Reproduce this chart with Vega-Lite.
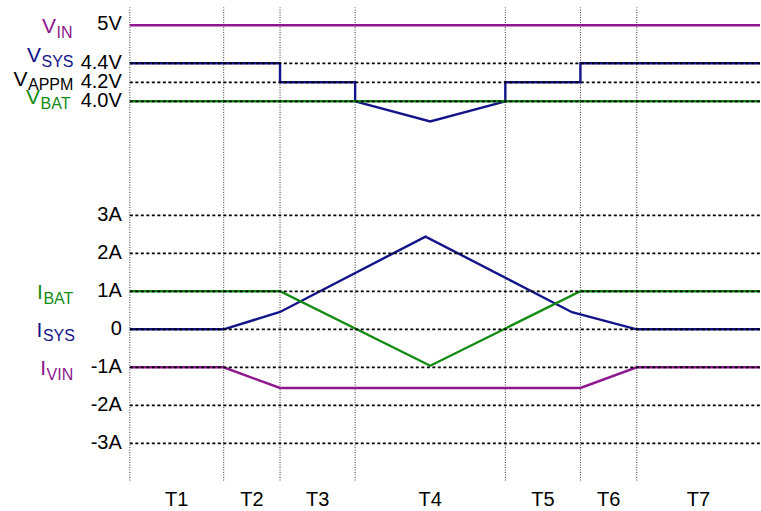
{
  "$schema": "https://vega.github.io/schema/vega-lite/v6.json",
  "width": 761,
  "height": 511,
  "autosize": {"type": "fit", "contains": "padding"},
  "padding": 0,
  "background": "white",
  "config": {"view": {"stroke": null}, "text": {"font": "Liberation Sans"}},
  "datasets": {
    "bounds": [{"t": 0}, {"t": 5}, {"t": 8}, {"t": 12}, {"t": 20}, {"t": 24}, {"t": 27}],
    "lines": [
      {"s": "VIN", "i": 0, "t": 0, "v": 8},
      {"s": "VIN", "i": 1, "t": 33.6, "v": 8},
      {"s": "VSYS", "i": 0, "t": 0, "v": 7},
      {"s": "VSYS", "i": 1, "t": 8, "v": 7},
      {"s": "VSYS", "i": 2, "t": 8, "v": 6.5},
      {"s": "VSYS", "i": 3, "t": 12, "v": 6.5},
      {"s": "VSYS", "i": 4, "t": 12, "v": 6},
      {"s": "VSYS", "i": 5, "t": 16, "v": 5.47},
      {"s": "VSYS", "i": 6, "t": 20, "v": 6},
      {"s": "VSYS", "i": 7, "t": 20, "v": 6.5},
      {"s": "VSYS", "i": 8, "t": 24, "v": 6.5},
      {"s": "VSYS", "i": 9, "t": 24, "v": 7},
      {"s": "VSYS", "i": 10, "t": 33.6, "v": 7},
      {"s": "VBAT", "i": 0, "t": 0, "v": 6},
      {"s": "VBAT", "i": 1, "t": 33.6, "v": 6},
      {"s": "ISYS", "i": 0, "t": 0, "v": 0},
      {"s": "ISYS", "i": 1, "t": 5, "v": 0},
      {"s": "ISYS", "i": 2, "t": 8, "v": 0.455},
      {"s": "ISYS", "i": 3, "t": 15.75, "v": 2.44},
      {"s": "ISYS", "i": 4, "t": 23.55, "v": 0.45},
      {"s": "ISYS", "i": 5, "t": 27, "v": 0},
      {"s": "ISYS", "i": 6, "t": 33.6, "v": 0},
      {"s": "IBAT", "i": 0, "t": 0, "v": 1},
      {"s": "IBAT", "i": 1, "t": 8, "v": 1},
      {"s": "IBAT", "i": 2, "t": 16, "v": -0.96},
      {"s": "IBAT", "i": 3, "t": 24, "v": 1},
      {"s": "IBAT", "i": 4, "t": 33.6, "v": 1},
      {"s": "IVIN", "i": 0, "t": 0, "v": -1},
      {"s": "IVIN", "i": 1, "t": 5, "v": -1},
      {"s": "IVIN", "i": 2, "t": 8, "v": -1.545},
      {"s": "IVIN", "i": 3, "t": 24, "v": -1.545},
      {"s": "IVIN", "i": 4, "t": 27, "v": -1},
      {"s": "IVIN", "i": 5, "t": 33.6, "v": -1}
    ],
    "grid": [{"lv": 7}, {"lv": 6.5}, {"lv": 6}, {"lv": 3}, {"lv": 2}, {"lv": 1}, {"lv": 0}, {"lv": -1}, {"lv": -2}, {"lv": -3}],
    "ticks": [
      {"lab": "5V", "v": 8.03},
      {"lab": "4.4V", "v": 7},
      {"lab": "4.2V", "v": 6.5},
      {"lab": "4.0V", "v": 6},
      {"lab": "3A", "v": 3},
      {"lab": "2A", "v": 2},
      {"lab": "1A", "v": 1},
      {"lab": "0", "v": 0},
      {"lab": "-1A", "v": -1},
      {"lab": "-2A", "v": -2},
      {"lab": "-3A", "v": -3}
    ],
    "names": [
      {"s": "VIN", "m": "V", "sub": "IN", "jx": -3.904, "ly": 7.797},
      {"s": "VSYS", "m": "V", "sub": "SYS", "jx": -4.707, "ly": 7.026},
      {"s": "VAPPM", "m": "V", "sub": "APPM", "jx": -5.426, "ly": 6.403},
      {"s": "VBAT", "m": "V", "sub": "BAT", "jx": -4.755, "ly": 5.929},
      {"s": "IBAT", "m": "I", "sub": "BAT", "jx": -4.601, "ly": 0.789},
      {"s": "ISYS", "m": "I", "sub": "SYS", "jx": -4.628, "ly": -0.195},
      {"s": "IVIN", "m": "I", "sub": "VIN", "jx": -4.436, "ly": -1.203}
    ],
    "periods": [
      {"lab": "T1", "tm": 2.5},
      {"lab": "T2", "tm": 6.5},
      {"lab": "T3", "tm": 10},
      {"lab": "T4", "tm": 16},
      {"lab": "T5", "tm": 22},
      {"lab": "T6", "tm": 25.5},
      {"lab": "T7", "tm": 30.28}
    ]
  },
  "layer": [
    {
      "data": {"name": "bounds"},
      "mark": {"type": "rule", "color": "#333333", "strokeDash": [1, 1.5], "strokeWidth": 1},
      "encoding": {
        "x": {"field": "t", "type": "quantitative", "scale": {"domain": [-6.915, 33.564], "nice": false, "zero": false}, "axis": null},
        "y": {"datum": -3.98, "type": "quantitative", "scale": {"domain": [-4.782, 8.666], "nice": false, "zero": false}, "axis": null},
        "y2": {"datum": 8.47}
      }
    },
    {
      "data": {"name": "lines"},
      "mark": {"type": "line", "strokeWidth": 2.4, "clip": true},
      "encoding": {
        "x": {"field": "t", "type": "quantitative", "axis": null},
        "y": {"field": "v", "type": "quantitative", "axis": null},
        "color": {"field": "s", "type": "nominal", "legend": null,
          "scale": {"domain": ["VIN", "VSYS", "VAPPM", "VBAT", "IBAT", "ISYS", "IVIN"],
                    "range": ["#8E178E", "#13138A", "#000000", "#138B13", "#138B13", "#13138A", "#8E178E"]}},
        "order": {"field": "i", "type": "quantitative"}
      }
    },
    {
      "data": {"name": "grid"},
      "mark": {"type": "rule", "color": "black", "strokeDash": [3, 2.5], "strokeWidth": 1.8},
      "encoding": {
        "y": {"field": "lv", "type": "quantitative", "axis": null},
        "x": {"datum": 0, "type": "quantitative", "axis": null},
        "x2": {"datum": 33.56}
      }
    },
    {
      "data": {"name": "ticks"},
      "mark": {"type": "text", "align": "right", "baseline": "middle", "fontSize": 20, "color": "black"},
      "encoding": {
        "x": {"datum": -0.426, "type": "quantitative", "axis": null},
        "y": {"field": "v", "type": "quantitative", "axis": null},
        "text": {"field": "lab"}
      }
    },
    {
      "data": {"name": "names"},
      "mark": {"type": "text", "align": "right", "baseline": "alphabetic", "fontSize": 21, "dx": -0.5},
      "encoding": {
        "x": {"field": "jx", "type": "quantitative", "axis": null},
        "y": {"field": "ly", "type": "quantitative", "axis": null},
        "text": {"field": "m"},
        "color": {"field": "s", "type": "nominal", "legend": null,
          "scale": {"domain": ["VIN", "VSYS", "VAPPM", "VBAT", "IBAT", "ISYS", "IVIN"],
                    "range": ["#8E178E", "#13138A", "#000000", "#138B13", "#138B13", "#13138A", "#8E178E"]}}
      }
    },
    {
      "data": {"name": "names"},
      "mark": {"type": "text", "align": "left", "baseline": "alphabetic", "fontSize": 16, "dy": 4.5},
      "encoding": {
        "x": {"field": "jx", "type": "quantitative", "axis": null},
        "y": {"field": "ly", "type": "quantitative", "axis": null},
        "text": {"field": "sub"},
        "color": {"field": "s", "type": "nominal", "legend": null,
          "scale": {"domain": ["VIN", "VSYS", "VAPPM", "VBAT", "IBAT", "ISYS", "IVIN"],
                    "range": ["#8E178E", "#13138A", "#000000", "#138B13", "#138B13", "#13138A", "#8E178E"]}}
      }
    },
    {
      "data": {"name": "periods"},
      "mark": {"type": "text", "align": "center", "baseline": "alphabetic", "fontSize": 20, "color": "black"},
      "encoding": {
        "x": {"field": "tm", "type": "quantitative", "axis": null},
        "y": {"datum": -4.65, "type": "quantitative", "axis": null},
        "text": {"field": "lab"}
      }
    }
  ]
}
